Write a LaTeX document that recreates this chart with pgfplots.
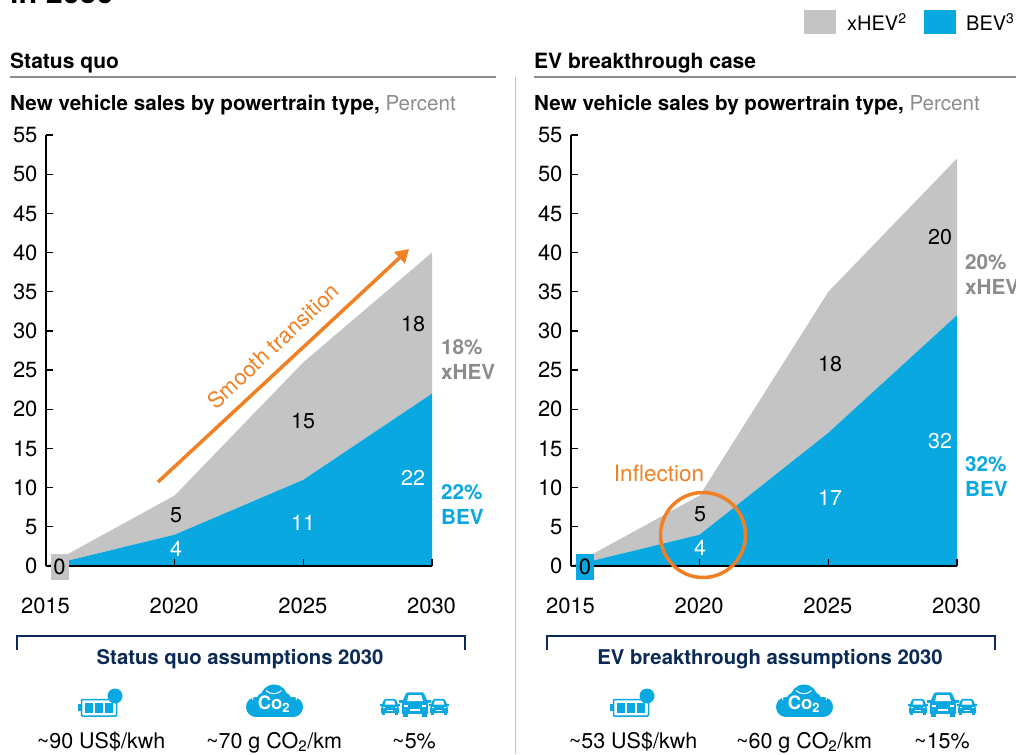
\documentclass[border=0pt]{standalone}
\usepackage{fontspec}
\setmainfont{TeX Gyre Heros}
\usepackage{pgfplots}
\pgfplotsset{compat=1.18}
\usetikzlibrary{arrows.meta}
\definecolor{bev}{HTML}{0AA8E0}
\definecolor{hev}{HTML}{C4C4C4}
\definecolor{lab}{HTML}{8C8C8C}
\definecolor{orng}{HTML}{F08023}
\definecolor{navy}{HTML}{0B2A55}
\newcommand{\fs}[1]{\fontsize{#1}{#1}\selectfont}
\pgfplotsset{panel/.style={
  scale only axis, width=386pt, height=431pt,
  anchor=south west,
  xmin=2015, xmax=2030, ymin=0, ymax=55,
  stack plots=y,
  axis lines=left, axis line style={-, line width=1.8pt, black},
  axis on top,
  xtick={2015,2020,2025,2030},
  ytick={0,5,...,55},
  tick align=inside, major tick length=7pt,
  tick style={black, line width=1.2pt},
  tick label style={font=\fs{22}},
  /pgf/number format/1000 sep={},
  /pgf/number format/assume math mode=true,
  xticklabel style={yshift=-28pt,xshift=-0.5pt},
  yticklabel style={xshift=-5pt},
  clip=false,
}}
\newcommand{\car}[3]{%
  \begin{scope}[shift={(#1,#2)},scale=#3]
    \fill[bev,rounded corners=1.2] (-9,2) -- (-9,-2) -- (-6,-9) -- (6,-9) -- (9,-2) -- (9,2) -- cycle;
    \fill[bev] (-11,-3.5) rectangle (11,-2);
    \fill[bev] (-8.5,1) rectangle (-5,8);
    \fill[bev] (5,1) rectangle (8.5,8);
    \fill[bev] (-9,0) rectangle (9,6);
    \fill[white] (-5.5,-3) -- (-4.4,-7.2) -- (4.4,-7.2) -- (5.5,-3) -- cycle;
    \fill[white] (-7.5,-0.5) rectangle (-4.8,1);
    \fill[white] (4.8,-0.5) rectangle (7.5,1);
    \fill[white] (-3.5,2.4) rectangle (3.5,3.6);
  \end{scope}}
\newcommand{\icons}[3]{%
  % battery
  \begin{scope}[shift={(#1,0)}]
    \draw[bev,line width=1.5pt,fill=white,rounded corners=1] (-18.5,699.5) rectangle (16.5,716);
    \fill[bev] (-22,704) rectangle (-19.5,711);
    \fill[bev] (-15,702.5) rectangle (-7,712.8);
    \fill[bev] (-5,702.5) rectangle (3,712.8);
    \fill[bev] (4.5,702.5) rectangle (12.5,712.8);
    \fill[bev] (15,696) circle (7.5);
  \end{scope}
  % cloud
  \begin{scope}[shift={(#2,0)}]
    \fill[bev] (0,698) circle (13.5);
    \fill[bev] (-18,707) circle (10);
    \fill[bev] (19,707) circle (10);
    \fill[bev] (-11,699) circle (6);
    \fill[bev] (11,699) circle (6);
    \fill[bev] (-18,701) rectangle (19,717);
    \node[white,font=\fs{18.5}\bfseries] at (0,704) {Co\textsubscript{2}};
    \draw[white,line width=1pt] (-8,690.5) arc[start angle=135,end angle=45,radius=11];
    \draw[white,line width=1pt] (-21,700) arc[start angle=150,end angle=210,radius=10];
    \draw[white,line width=1pt] (22,700) arc[start angle=30,end angle=-30,radius=10];
  \end{scope}
  % cars
  \car{#3-24}{707.5}{0.95}
  \car{#3+1}{705.5}{1.45}
  \car{#3+25}{707.5}{0.95}}
\begin{document}
\begin{tikzpicture}
\path[use as bounding box] (0pt,0pt) rectangle (1016pt,-754pt);
\clip (0pt,0pt) rectangle (1016pt,-754pt);

\begin{axis}[panel, at={(46pt,-566pt)}]
  \addplot[fill=bev,draw=none] coordinates {(2015,0) (2020,4) (2025,11) (2030,22)} \closedcycle;
  \addplot[fill=hev,draw=none] coordinates {(2015,0) (2020,5) (2025,15) (2030,18)} \closedcycle;
  \addplot[stack plots=false,white,line width=1.6pt] coordinates {(2015,0) (2020,4) (2025,11) (2030,22)};
\end{axis}
\begin{axis}[panel, at={(571pt,-566pt)}]
  \addplot[fill=bev,draw=none] coordinates {(2015,0) (2020,4) (2025,17) (2030,32)} \closedcycle;
  \addplot[fill=hev,draw=none] coordinates {(2015,0) (2020,5) (2025,18) (2030,20)} \closedcycle;
  \addplot[stack plots=false,white,line width=1.6pt] coordinates {(2015,0) (2020,4) (2025,17) (2030,32)};
\end{axis}

\begin{scope}[x=1pt,y=-1pt]
  % heading cut off at the top
  \node[anchor=base west,inner sep=0,font=\fs{30.5}\bfseries] at (10,4) {in 2030};
  % legend
  \fill[hev] (804,10) rectangle (836,34);
  \node[anchor=base west,inner sep=0,font=\fs{20}] at (847,31) {xHEV\textsuperscript{2}};
  \fill[bev] (924,10) rectangle (956,34);
  \node[anchor=base west,inner sep=0,font=\fs{20}] at (966,31) {BEV\textsuperscript{3}};
  % rules
  \draw[lab,line width=1.1pt] (10,77) -- (496,77);
  \draw[lab,line width=1.1pt] (534,77) -- (1016,77);
  \draw[hev,line width=1pt] (515,77) -- (515,754);
  % panel headers
  \node[anchor=base west,inner sep=0,font=\fs{21}\bfseries] at (10,69) {Status quo};
  \node[anchor=base west,inner sep=0,font=\fs{21}\bfseries] at (534,69) {EV breakthrough case};
  \node[anchor=base west,inner sep=0,font=\fs{20.6}] at (10,111) {\textbf{New vehicle sales by powertrain type,} \textcolor{lab}{Percent}};
  \node[anchor=base west,inner sep=0,font=\fs{20.6}] at (534,111) {\textbf{New vehicle sales by powertrain type,} \textcolor{lab}{Percent}};
  % start boxes
  \fill[hev] (51,554) rectangle (69,580);
  \node[font=\fs{22}] at (59.5,567) {0};
  \fill[bev] (576,554) rectangle (594,580);
  \node[font=\fs{22}] at (585,567) {0};
  % value labels
  \begin{scope}[every node/.style={font=\fs{21.5},inner sep=0}]
    \node[white] at (176,549) {4};
    \node at (176,515) {5};
    \node[white] at (303,523) {11};
    \node at (303,421) {15};
    \node[white] at (413,478) {22};
    \node at (413,324) {18};
    \node[white] at (700,548) {4};
    \node at (700,514) {5};
    \node[white] at (830,498) {17};
    \node at (830,364) {18};
    \node[white] at (940,441) {32};
    \node at (940,237) {20};
  \end{scope}
  % side labels
  \begin{scope}[every node/.style={font=\fs{20.7}\bfseries,inner sep=0,anchor=base west}]
    \node[lab] at (441,354) {18\%};
    \node[lab] at (441,379) {xHEV};
    \node[bev] at (441,499) {22\%};
    \node[bev] at (441,524) {BEV};
    \node[lab] at (965,269) {20\%};
    \node[lab] at (965,294) {xHEV};
    \node[bev] at (965,471) {32\%};
    \node[bev] at (965,496) {BEV};
  \end{scope}
  % annotations
  \draw[orng,line width=3.5pt,-{Triangle[length=13pt,width=15pt]}] (158,482) -- (409,249);
  \node[orng,font=\fs{22},rotate=43] at (273,346) {Smooth transition};
  \node[orng,font=\fs{22.5}] at (659,473) {Inflection};
  \draw[orng,line width=3.5pt] (703,535) circle (42.5);
  % brackets
  \draw[navy,line width=2pt] (16.5,650) -- (16.5,636) -- (464.5,636) -- (464.5,650);
  \draw[navy,line width=2pt] (546.5,650) -- (546.5,636) -- (994.5,636) -- (994.5,650);
  \node[navy,font=\fs{20.3}\bfseries] at (240,659.5) {Status quo assumptions 2030};
  \node[navy,font=\fs{20.3}\bfseries] at (770,659.5) {EV breakthrough assumptions 2030};
  % icons
  \icons{100}{274}{414}
  \icons{632}{804}{942}
  % assumptions
  \begin{scope}[every node/.style={font=\fs{21.5},inner sep=0,anchor=base}]
    \node at (101,748) {\textasciitilde 90 US\$/kwh};
    \node at (274,748) {\textasciitilde 70 g CO\textsubscript{2}/km};
    \node at (414,748) {\textasciitilde 5\%};
    \node at (633,748) {\textasciitilde 53 US\$/kwh};
    \node at (804,748) {\textasciitilde 60 g CO\textsubscript{2}/km};
    \node at (942,748) {\textasciitilde 15\%};
  \end{scope}
\end{scope}
\end{tikzpicture}
\end{document}
